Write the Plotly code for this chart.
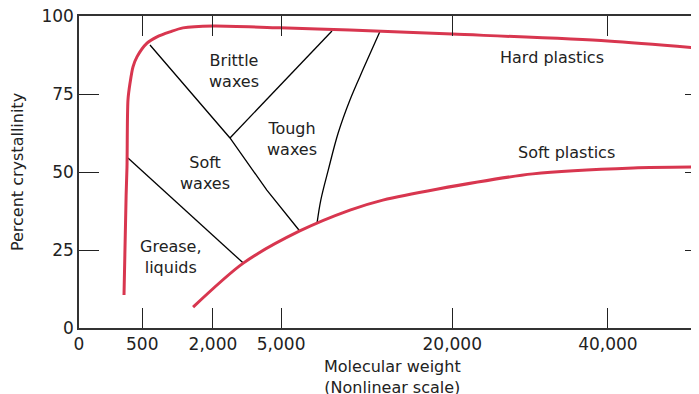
import plotly.graph_objects as go

# Nonlinear x scale: positions (scale units 0-100) and their molecular-weight labels
x_tick_pos = [0, 10.2, 21.6, 32.6, 60.2, 85.3]
x_tick_text = ["0", "500", "2,000", "5,000", "20,000", "40,000"]
y_tick_vals = [0, 25, 50, 75, 100]

# Upper boundary curve (hard plastics / waxes)
upper_x = [7.26, 7.6, 7.74, 7.9, 8.23, 8.71, 9.35, 10.97, 12.58, 14.68, 16.77, 21.6, 32.4, 43.7, 60.2, 85.3, 100]
upper_y = [10.6, 42.5, 51.6, 73.1, 78.5, 83.7, 86.9, 91.3, 93.3, 94.9, 96.2, 96.8, 96.2, 95.5, 94.2, 92.0, 89.7]

# Lower boundary curve (soft plastics)
lower_x = [18.4, 26.5, 35.6, 43.7, 49.0, 57.7, 73.2, 89.4, 100]
lower_y = [6.7, 20.8, 31.1, 37.8, 41.0, 44.5, 49.4, 51.3, 51.6]

# Region dividers
div1_x = [11.45, 24.35, 30.3, 35.6]
div1_y = [90.7, 60.9, 44.2, 31.1]
div2_x = [24.35, 40.8]
div2_y = [60.9, 95.2]
div3_x = [38.4, 39.0, 40.2, 41.8, 43.7, 46.0, 48.5]
div3_y = [33.7, 41.0, 50.6, 62.5, 73.1, 83.7, 94.9]
div4_x = [7.9, 26.5]
div4_y = [54.5, 20.8]

# Region labels
label_text = ["Brittle<br>waxes", "Tough<br>waxes", "Soft<br>waxes", "Grease,<br>liquids",
              "Hard plastics", "Soft plastics"]
label_x = [25.0, 34.4, 20.3, 14.8, 76.3, 78.7]
label_y = [82.5, 60.6, 49.7, 22.8, 86.7, 56.4]

x_title = "Molecular weight<br>(Nonlinear scale)"
y_title = "Percent crystallinity"

RED = "#d8364f"
INK = "#222222"
FONT = "DejaVu Sans"

fig = go.Figure()
for xs, ys, shape in [(div1_x, div1_y, "linear"), (div2_x, div2_y, "linear"),
                      (div3_x, div3_y, "spline"), (div4_x, div4_y, "linear")]:
    fig.add_trace(go.Scatter(x=xs, y=ys, mode="lines", line=dict(color="black", width=1.3, shape=shape),
                             hoverinfo="skip", showlegend=False))
fig.add_trace(go.Scatter(x=upper_x, y=upper_y, mode="lines",
                         line=dict(color=RED, width=3, shape="spline", smoothing=0.8), showlegend=False))
fig.add_trace(go.Scatter(x=lower_x, y=lower_y, mode="lines",
                         line=dict(color=RED, width=3, shape="spline", smoothing=0.8), showlegend=False))
# invisible trace to carry the right-side tick axis
fig.add_trace(go.Scatter(x=[None], y=[None], yaxis="y2", showlegend=False, hoverinfo="skip"))

for t, x, y in zip(label_text, label_x, label_y):
    fig.add_annotation(x=x, y=y, text=t, showarrow=False, font=dict(family=FONT, size=16, color=INK))

# x-axis title placed as a paper annotation (two lines, centred under the axis)
fig.add_annotation(x=0.505, y=-0.157, xref="paper", yref="paper", text=x_title, showarrow=False,
                   xanchor="center", yanchor="middle", font=dict(family=FONT, size=16, color=INK))

fig.update_layout(
    width=691, height=386,
    margin=dict(l=71, r=0, t=8, b=66),
    plot_bgcolor="white", paper_bgcolor="white",
    font=dict(family=FONT, size=17, color=INK),
    xaxis=dict(range=[0, 100], tickmode="array", tickvals=x_tick_pos, ticktext=x_tick_text,
               ticks="inside", ticklen=20, tickwidth=1.2, tickcolor="#222",
               showline=True, linecolor="#333", linewidth=1.5, mirror="ticks",
               showgrid=False, zeroline=False, automargin=False, ticklabeloverflow="allow"),
    yaxis=dict(range=[0, 100], tickmode="array", tickvals=y_tick_vals,
               ticks="inside", ticklen=20, tickwidth=1.2, tickcolor="#222",
               showline=True, linecolor="#333", linewidth=1.5, mirror=False,
               showgrid=False, zeroline=False, automargin=False, ticklabeloverflow="allow",
               title=dict(text=y_title, standoff=25,
                          font=dict(family=FONT, size=16, color=INK))),
    yaxis2=dict(range=[0, 100], overlaying="y", side="right", tickmode="array", tickvals=[25, 50, 75],
                ticks="inside", ticklen=14, tickwidth=1.2, tickcolor="#222", automargin=False,
                showticklabels=False, showline=False, showgrid=False, zeroline=False),
)

fig.write_html("out.html")
